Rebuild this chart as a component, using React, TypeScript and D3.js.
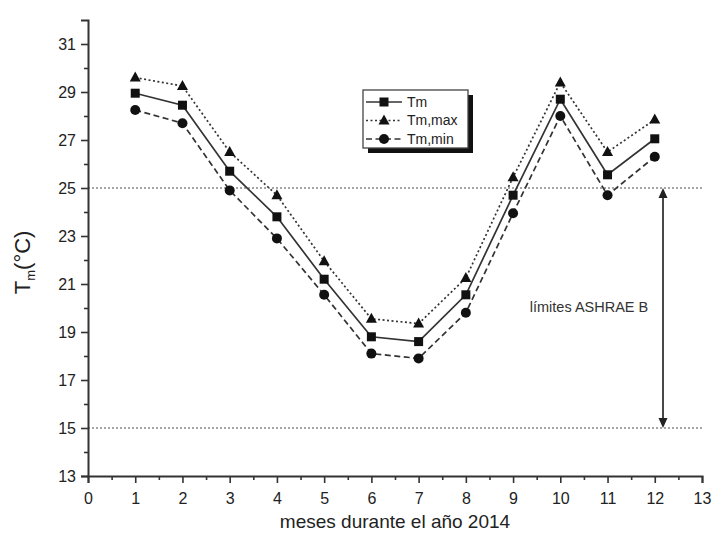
import React, {useRef, useEffect} from 'react';
import * as d3 from 'd3';

const months = [1, 2, 3, 4, 5, 6, 7, 8, 9, 10, 11, 12];
const tm = [28.95, 28.45, 25.7, 23.8, 21.2, 18.8, 18.6, 20.55, 24.7, 28.7, 25.55, 27.05];
const tmMax = [29.6, 29.25, 26.5, 24.7, 21.95, 19.55, 19.35, 21.25, 25.45, 29.4, 26.5, 27.85];
const tmMin = [28.25, 27.7, 24.9, 22.9, 20.55, 18.1, 17.9, 19.8, 23.95, 28.0, 24.7, 26.3];
const yTicks = [13, 15, 17, 19, 21, 23, 25, 27, 29, 31];
const xTicks = [0, 1, 2, 3, 4, 5, 6, 7, 8, 9, 10, 11, 12, 13];
const limits = [25, 15];

const series = [
  {name: 'Tm', values: tm, dash: null, marker: 'square'},
  {name: 'Tm,max', values: tmMax, dash: '2,2.5', marker: 'triangle'},
  {name: 'Tm,min', values: tmMin, dash: '6,3.5', marker: 'circle'},
];

function App() {
  const canvas = useRef<HTMLDivElement>(null);

  const width = 713;
  const height = 549;
  const left = 88, right = 702, top = 20, bottom = 476;
  const axisColor = '#333';
  const font = '"Liberation Sans", Arial, sans-serif';

  const xScale = d3.scaleLinear().domain([0, 13]).range([left, right]);
  const yScale = d3.scaleLinear().domain([13, 32]).range([bottom, top]);

  useEffect(() => {
    document.body.style.margin = '0';
    d3.select(canvas.current).selectAll('*').remove();

    const svg = d3.select(canvas.current)
      .append('svg')
        .attr('width', width)
        .attr('height', height)
        .style('display', 'block')
        .style('background', '#fff');

    // ASHRAE limit lines
    svg.selectAll('line.limit')
      .data(limits)
      .enter()
        .append('line')
          .attr('x1', left)
          .attr('x2', right)
          .attr('y1', d => yScale(d))
          .attr('y2', d => yScale(d))
          .attr('stroke', '#888')
          .attr('stroke-width', 1.6)
          .attr('stroke-dasharray', '2,2');

    // y axis, major + minor
    const yAxis = svg.append('g')
      .attr('transform', `translate(${left},0)`)
      .call(d3.axisLeft(yScale).tickValues(yTicks).tickSize(7).tickPadding(5).tickFormat(d3.format('d')));
    svg.append('g')
      .attr('transform', `translate(${left},0)`)
      .call(d3.axisLeft(yScale).tickValues(d3.range(14, 32, 2)).tickSize(4).tickFormat(() => ''))
      .select('.domain').remove();

    // x axis, major + minor
    const xAxis = svg.append('g')
      .attr('transform', `translate(0,${bottom})`)
      .call(d3.axisBottom(xScale).tickValues(xTicks).tickSize(7).tickPadding(10).tickFormat(d3.format('d')));
    svg.append('g')
      .attr('transform', `translate(0,${bottom})`)
      .call(d3.axisBottom(xScale).tickValues(d3.range(0.5, 13, 1)).tickSize(4).tickFormat(() => ''))
      .select('.domain').remove();

    svg.selectAll('.domain').attr('stroke', axisColor).attr('stroke-width', 2);
    svg.selectAll('.tick line').attr('stroke', axisColor).attr('stroke-width', 1.6);
    [yAxis, xAxis].forEach(a => a.selectAll('text')
      .attr('font-family', font)
      .attr('font-size', 16)
      .attr('fill', '#222'));
    yAxis.selectAll('text').attr('dy', '0.35em');

    // axis titles
    const yTitle = svg.append('text')
      .attr('transform', `translate(30,${yScale(21.9)}) rotate(-90)`)
      .attr('text-anchor', 'middle')
      .attr('font-family', font)
      .attr('font-size', 22)
      .attr('fill', '#222');
    yTitle.append('tspan').text('T');
    yTitle.append('tspan').attr('font-size', 13).attr('dy', 5).text('m');
    yTitle.append('tspan').attr('dy', -5).text('(°C)');

    svg.append('text')
      .attr('x', (left + right) / 2)
      .attr('y', 528)
      .attr('text-anchor', 'middle')
      .attr('font-family', font)
      .attr('font-size', 19)
      .attr('fill', '#222')
      .text('meses durante el año 2014');

    // series
    const line = d3.line<number>()
      .x((d, i) => xScale(months[i]))
      .y(d => yScale(d));

    const drawMarker = (g, kind, x, y) => {
      if (kind === 'square') {
        g.append('rect').attr('x', x - 4.5).attr('y', y - 4.5).attr('width', 9).attr('height', 9).attr('fill', '#111');
      } else if (kind === 'triangle') {
        g.append('path').attr('d', `M${x},${y - 6}L${x + 5.5},${y + 4}L${x - 5.5},${y + 4}Z`).attr('fill', '#111');
      } else {
        g.append('circle').attr('cx', x).attr('cy', y).attr('r', 5).attr('fill', '#111');
      }
    };

    series.forEach(s => {
      const g = svg.append('g');
      g.append('path')
        .attr('d', line(s.values))
        .attr('fill', 'none')
        .attr('stroke', '#333')
        .attr('stroke-width', 1.7)
        .attr('stroke-dasharray', s.dash);
      s.values.forEach((v, i) => drawMarker(g, s.marker, xScale(months[i]), yScale(v)));
    });

    // legend with drop shadow
    const lg = svg.append('g').attr('transform', 'translate(363,90)');
    lg.append('rect').attr('x', 5).attr('y', 5).attr('width', 105).attr('height', 58).attr('fill', '#111');
    lg.append('rect').attr('x', 0).attr('y', 0).attr('width', 105).attr('height', 58)
      .attr('fill', '#fff').attr('stroke', '#444').attr('stroke-width', 1.3);
    series.forEach((s, i) => {
      const yy = 12 + i * 18.5;
      lg.append('line').attr('x1', 3).attr('x2', 39).attr('y1', yy).attr('y2', yy)
        .attr('stroke', '#333').attr('stroke-width', 1.4).attr('stroke-dasharray', s.dash);
      drawMarker(lg, s.marker, 21, yy);
      lg.append('text').attr('x', 44).attr('y', yy).attr('dy', '0.35em')
        .attr('font-family', font).attr('font-size', 14).attr('fill', '#222').text(s.name);
    });

    // double arrow between the limits
    const ax = 663;
    const y1 = yScale(limits[0]), y2 = yScale(limits[1]);
    svg.append('line').attr('x1', ax).attr('x2', ax).attr('y1', y1 + 6).attr('y2', y2 - 6)
      .attr('stroke', '#333').attr('stroke-width', 1.8);
    svg.append('path').attr('d', `M${ax},${y1}L${ax + 4.5},${y1 + 10}L${ax - 4.5},${y1 + 10}Z`).attr('fill', '#222');
    svg.append('path').attr('d', `M${ax},${y2}L${ax + 4.5},${y2 - 10}L${ax - 4.5},${y2 - 10}Z`).attr('fill', '#222');
    svg.append('text')
      .attr('x', 589)
      .attr('y', yScale(20.05))
      .attr('dy', '0.35em')
      .attr('text-anchor', 'middle')
      .attr('font-family', font)
      .attr('font-size', 14.5)
      .attr('fill', '#333')
      .text('límites ASHRAE B');
  });

  return <div className="d3-canvas" ref={canvas}></div>;
}

export default App;
